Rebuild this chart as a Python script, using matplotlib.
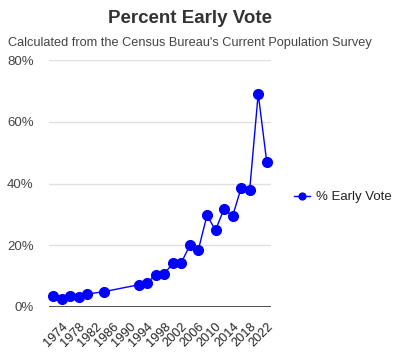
import matplotlib.pyplot as plt

years = [1972, 1974, 1976, 1978, 1980, 1984, 1992, 1994, 1996, 1998, 2000,
         2002, 2004, 2006, 2008, 2010, 2012, 2014, 2016, 2018, 2020, 2022]
early_vote = [3.6, 2.7, 3.6, 3.2, 4.2, 5.0, 7.2, 7.9, 10.4, 10.8, 14.1,
              14.4, 20.0, 18.6, 29.7, 24.9, 31.8, 29.4, 38.6, 37.9, 69.1, 47.0]
tick_years = list(range(1974, 2023, 4))
y_ticks = [0, 20, 40, 60, 80]

plt.rcParams['font.family'] = ['Liberation Sans', 'DejaVu Sans']

fig = plt.figure(figsize=(4.1, 3.58), dpi=100)
ax = fig.add_axes([0.1195, 0.1425, 0.5415, 0.6895])

ax.plot(years, early_vote, color='#0000ff', lw=1, marker='o', ms=7,
        label='% Early Vote', zorder=3, clip_on=False)

ax.set_xlim(1971, 2023)
ax.set_ylim(0, 80)
ax.set_yticks(y_ticks)
ax.set_yticklabels([f'{v}%' for v in y_ticks], fontsize=9.5, color='#444444')
ax.set_xticks(tick_years)
ax.set_xticklabels([str(y) for y in tick_years], rotation=45, ha='right',
                   rotation_mode='anchor', fontsize=9.2, color='#222222')
ax.tick_params(axis='y', length=0, pad=11)
ax.tick_params(axis='x', length=0, pad=10)
ax.grid(axis='y', color='#e0e0e0', lw=1)
ax.axhline(0, color='#333333', lw=1.2, zorder=2)
for s in ax.spines.values():
    s.set_visible(False)

ax.legend(loc='center left', bbox_to_anchor=(1.05, 0.445), frameon=False,
          fontsize=9.5, handlelength=1.2, handletextpad=0.5, markerscale=0.7,
          labelcolor='#222222')

fig.text(0.463, 0.948, 'Percent Early Vote', ha='center', va='center',
         fontsize=13.5, fontweight='bold', color='#333333')
fig.text(0.463, 0.880, "Calculated from the Census Bureau's Current Population Survey",
         ha='center', va='center', fontsize=9.2, color='#444444')

fig.savefig('out.png', dpi=100)
